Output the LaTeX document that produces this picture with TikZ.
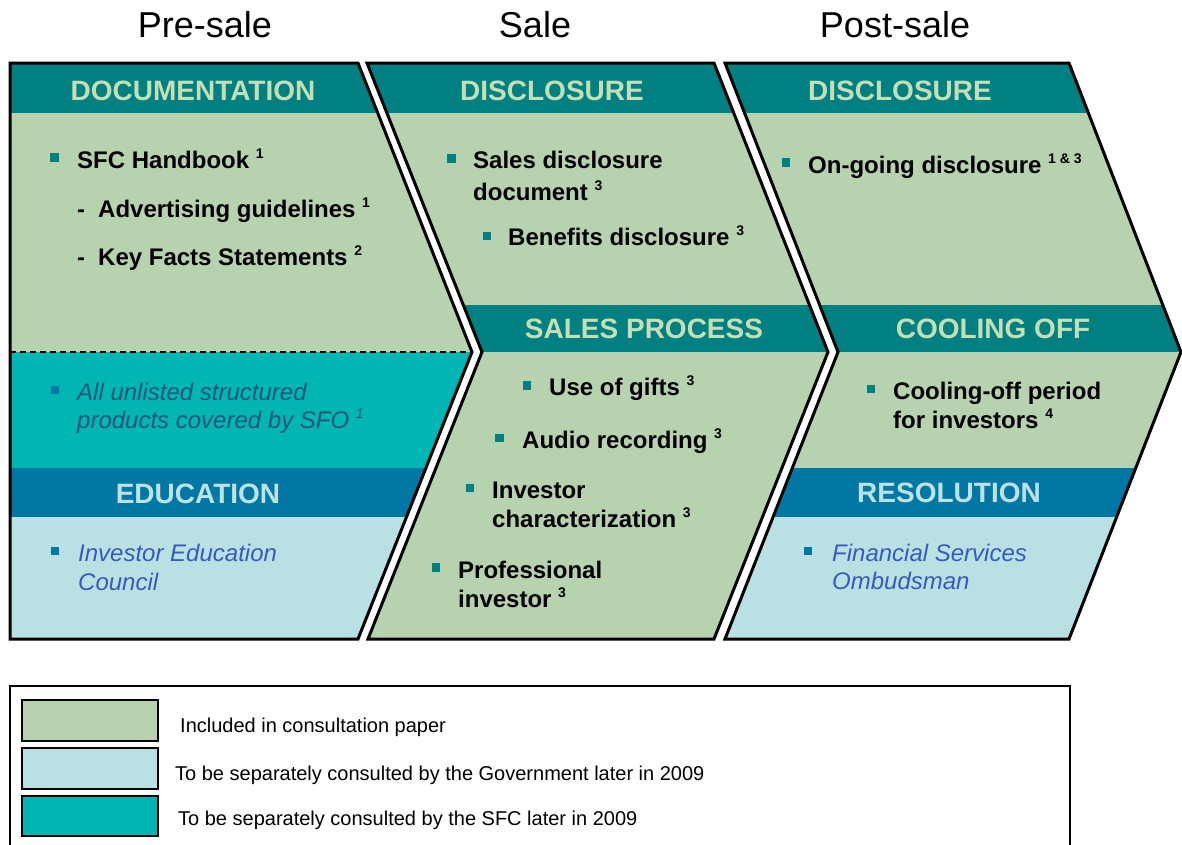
\documentclass[tikz,border=0pt]{standalone}
\usepackage{fontspec}
\setmainfont{Liberation Sans}
\definecolor{hdteal}{RGB}{0,128,128}
\definecolor{hdblue}{RGB}{0,120,163}
\definecolor{lgreen}{RGB}{182,210,174}
\definecolor{sfcteal}{RGB}{0,182,178}
\definecolor{lblue}{RGB}{185,224,226}
\definecolor{hdtxtg}{RGB}{196,222,182}
\definecolor{hdtxtb}{RGB}{188,226,232}
\definecolor{bullt}{RGB}{0,128,128}
\definecolor{bullb}{RGB}{0,120,163}
\definecolor{ittxta}{RGB}{28,88,118}
\definecolor{ittxtb}{RGB}{55,90,190}
\newcommand\supx[1]{\raisebox{10pt}{\fontsize{14}{14}\selectfont #1}}
\tikzset{
  ttl/.style={font=\fontsize{36}{40}\selectfont, anchor=base, inner sep=0},
  hdg/.style={font=\bfseries\fontsize{28}{32}\selectfont, anchor=base, inner sep=0, text=hdtxtg},
  hdgb/.style={hdg, text=hdtxtb},
  body/.style={font=\bfseries\fontsize{24}{28}\selectfont, anchor=base west, inner sep=0},
  ital/.style={font=\itshape\fontsize{24}{28}\selectfont, anchor=base west, inner sep=0},
  leg/.style={font=\fontsize{20}{24}\selectfont, anchor=base west, inner sep=0},
  bul/.style={fill=bullt, minimum size=8.5pt, inner sep=0},
  bulb/.style={bul, fill=bullb},
  frame/.style={draw=black, line width=3pt, line join=miter},
  swatch/.style={draw=black, line width=2pt}
}
\begin{document}
\begin{tikzpicture}[x=1pt,y=-1pt]
\useasboundingbox (0,0) rectangle (1182,844);
\fill[white] (0,0) rectangle (1182,844);
\def\pA{(10,63) -- (358,63) -- (472,352) -- (358,639) -- (10,639) -- cycle}
\def\pB{(367,63) -- (714,63) -- (828,352) -- (714,639) -- (368,639) -- (482,352) -- cycle}
\def\pC{(725,63) -- (1069,63) -- (1181,352) -- (1069,639) -- (725,639) -- (838,352) -- cycle}
% panel A
\begin{scope}
\clip \pA;
\fill[lgreen] (0,0) rectangle (1182,844);
\fill[hdteal] (0,60) rectangle (520,113);
\fill[sfcteal] (0,352) rectangle (520,468);
\fill[hdblue] (0,468) rectangle (520,517);
\fill[lblue] (0,517) rectangle (520,644);
\end{scope}
\draw[line width=1.5pt, dash pattern=on 6pt off 4pt] (10,352) -- (470,352);
\draw[frame] \pA;
% panel B
\begin{scope}
\clip \pB;
\fill[lgreen] (0,0) rectangle (1182,844);
\fill[hdteal] (300,60) rectangle (900,113);
\fill[hdteal] (300,305) rectangle (900,352);
\end{scope}
\draw[frame] \pB;
% panel C
\begin{scope}
\clip \pC;
\fill[lgreen] (0,0) rectangle (1182,844);
\fill[hdteal] (700,60) rectangle (1200,113);
\fill[hdteal] (700,305) rectangle (1200,352);
\fill[hdblue] (700,468) rectangle (1200,517);
\fill[lblue] (700,517) rectangle (1200,644);
\end{scope}
\draw[frame] \pC;
% titles
\node[ttl] (t1) at (205,37) {Pre-sale};
\node[ttl] (t2) at (535,37) {Sale};
\node[ttl] (t3) at (895,37) {Post-sale};
% headings
\node[hdg] (h1) at (193,100) {DOCUMENTATION};
\node[hdg] (h2) at (552,100) {DISCLOSURE};
\node[hdg] (h3) at (900,100) {DISCLOSURE};
\node[hdg] (h4) at (644,338) {SALES PROCESS};
\node[hdg] (h5) at (993,338) {COOLING OFF};
\node[hdgb] (h6) at (198,503) {EDUCATION};
\node[hdgb] (h7) at (949,502) {RESOLUTION};
% pre-sale content
\node[bul] (b1) at (54.5,157.5) {};
\node[body] (x1) at (77,168) {SFC Handbook \supx{1}};
\node[body] (x2) at (77,217) {-\hspace{13pt}Advertising guidelines \supx{1}};
\node[body] (x3) at (77,265) {-\hspace{13pt}Key Facts Statements \supx{2}};
\node[bulb] (b2) at (55,390) {};
\node[ital, text=ittxta] (x4) at (77,400) {All unlisted structured};
\node[ital, text=ittxta] (x5) at (77,428) {products covered by SFO \supx{1}};
\node[bulb] (b3) at (55,551) {};
\node[ital, text=ittxtb] (x6) at (78,561) {Investor Education};
\node[ital, text=ittxtb] (x7) at (78,590) {Council};
% sale content
\node[bul] (b4) at (451.5,158.5) {};
\node[body] (y1) at (473,168) {Sales disclosure};
\node[body] (y2) at (473,200) {document \supx{3}};
\node[bul] (b5) at (487,236) {};
\node[body] (y3) at (508,245) {Benefits disclosure \supx{3}};
\node[bul] (b6) at (527,385.5) {};
\node[body] (y4) at (549,395) {Use of gifts \supx{3}};
\node[bul] (b7) at (499.5,438) {};
\node[body] (y5) at (522,448) {Audio recording \supx{3}};
\node[bul] (b8) at (470,488) {};
\node[body] (y6) at (492,498) {Investor};
\node[body] (y7) at (492,527) {characterization \supx{3}};
\node[bul] (b9) at (436,567.5) {};
\node[body] (y8) at (458,578) {Professional};
\node[body] (y9) at (458,607) {investor \supx{3}};
% post-sale content
\node[bul] (b10) at (786,162.5) {};
\node[body] (z1) at (808,173) {On-going disclosure \supx{1 \& 3}};
\node[bul] (b11) at (871,389) {};
\node[body] (z2) at (893,399) {Cooling-off period};
\node[body] (z3) at (893,428) {for investors \supx{4}};
\node[bulb] (b12) at (808,551) {};
\node[ital, text=ittxtb] (z4) at (832,561) {Financial Services};
\node[ital, text=ittxtb] (z5) at (832,589) {Ombudsman};
% legend
\draw[line width=2pt] (10,848) -- (10,686) -- (1070,686) -- (1070,848);
\draw[swatch, fill=lgreen] (22,700) rectangle (158,741);
\draw[swatch, fill=lblue] (22,748) rectangle (158,789);
\draw[swatch, fill=sfcteal] (22,796) rectangle (158,836);
\node[leg] (l1) at (180,732) {Included in consultation paper};
\node[leg] (l2) at (175,780) {To be separately consulted by the Government later in 2009};
\node[leg] (l3) at (178,825) {To be separately consulted by the SFC later in 2009};
\end{tikzpicture}
\end{document}
